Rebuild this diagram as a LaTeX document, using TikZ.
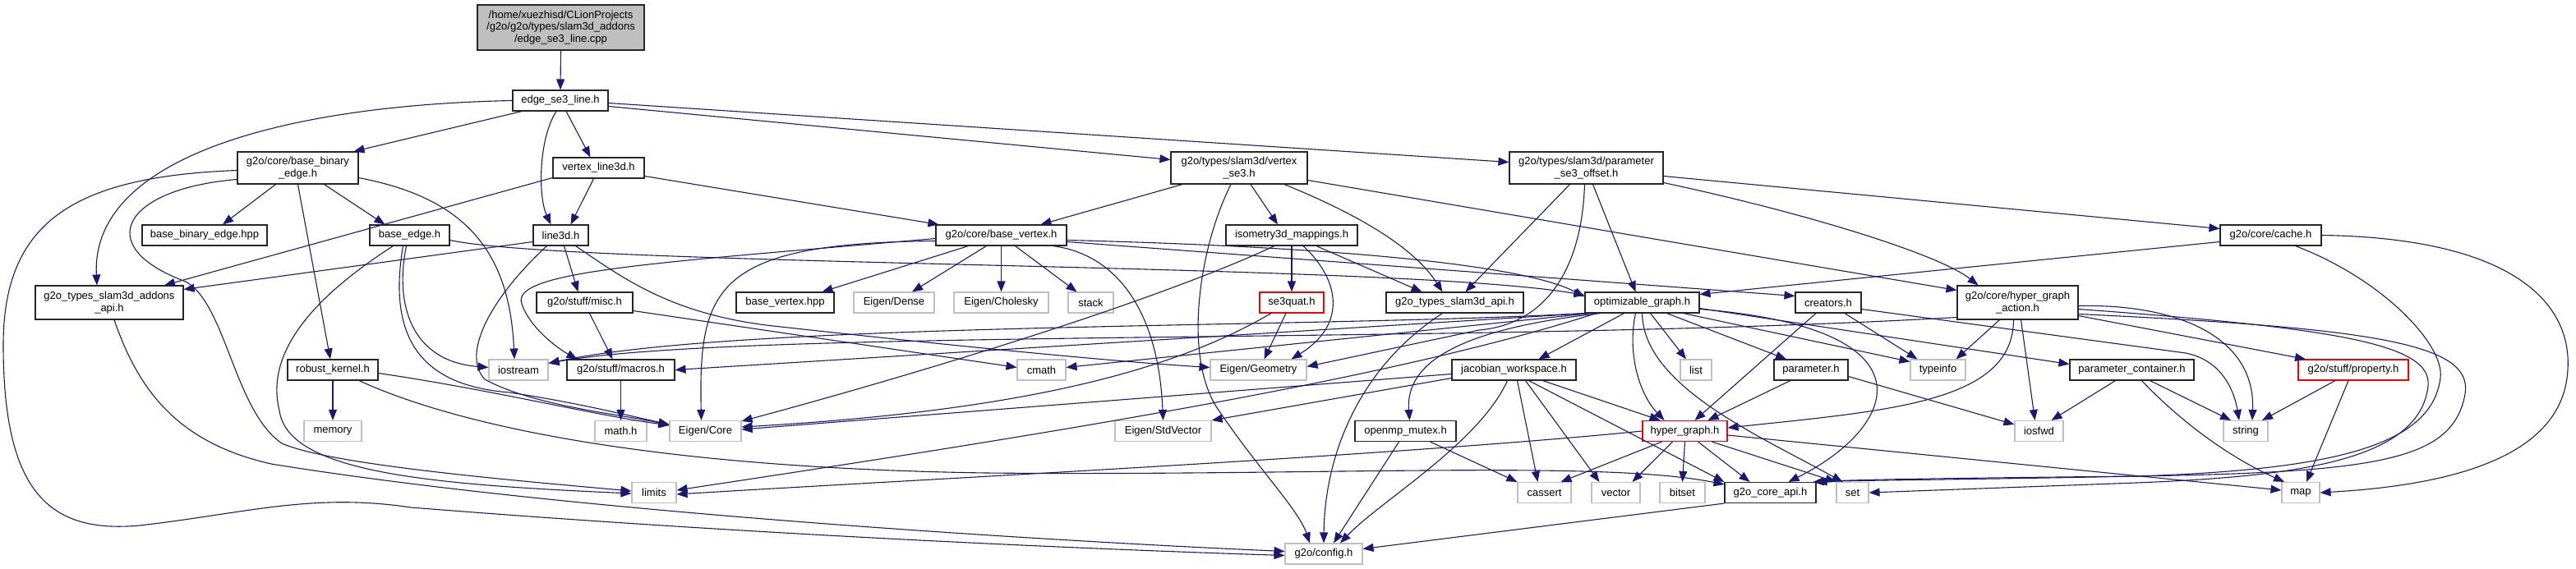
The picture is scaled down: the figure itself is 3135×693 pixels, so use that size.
\documentclass[tikz,border=0pt]{standalone}
\usepackage{fontspec}
\setmainfont{Liberation Sans}
\usepackage{tikz}
\usetikzlibrary{arrows.meta}
\definecolor{edgeblue}{HTML}{191970}
\definecolor{sysgray}{HTML}{BFBFBF}
\newcommand{\dxfont}{\fontsize{13}{14.5}\selectfont}

\begin{document}
\begin{tikzpicture}[x=1pt,y=-1pt,
  hdr/.style={draw=black!85,line width=1.1pt,fill=white,inner sep=0pt,
    minimum height=25pt,align=center,font=\dxfont},
  sys/.style={hdr,draw=sysgray},
  trunc/.style={hdr,draw=red},
  root/.style={hdr,fill=sysgray,minimum height=55pt},
  two/.style={minimum height=39pt},
  dep/.style={draw=edgeblue,line width=1.1pt,
    -{Triangle[length=13pt,width=10pt]}}]
\useasboundingbox (0,0) rectangle (3135,693);
% the cpp file and the header it includes
\node[root,minimum width=203pt] (root) at (682.5,33.5)
  {/home/xuezhisd/CLionProjects\\/g2o/g2o/types/slam3d\_addons\\/edge\_se3\_line.cpp};
\node[hdr,minimum width=116pt] (esl) at (682,122.5) {edge\_se3\_line.h};
% rank 2
\node[hdr,two,minimum width=147pt] (bbe) at (362.5,204.5) {g2o/core/base\_binary\\\_edge.h};
\node[hdr,minimum width=111pt] (vl3) at (728.5,204.5) {vertex\_line3d.h};
\node[hdr,two,minimum width=166pt] (vse3) at (1508,204.5) {g2o/types/slam3d/vertex\\\_se3.h};
\node[hdr,two,minimum width=187pt] (pso) at (1930.5,204.5) {g2o/types/slam3d/parameter\\\_se3\_offset.h};
% rank 3
\node[hdr,minimum width=152pt] (bbehpp) at (249,286.5) {base\_binary\_edge.hpp};
\node[hdr,minimum width=97pt] (be) at (498.5,286.5) {base\_edge.h};
\node[hdr,minimum width=67pt] (l3d) at (682.5,286.5) {line3d.h};
\node[hdr,minimum width=159pt] (bv) at (1218.5,286.5) {g2o/core/base\_vertex.h};
\node[hdr,minimum width=160pt] (iso) at (1572,286.5) {isometry3d\_mappings.h};
\node[hdr,minimum width=123pt] (cache) at (2763.5,286.5) {g2o/core/cache.h};
% rank 4
\node[hdr,minimum height=41pt,minimum width=180pt] (addapi) at (133,368.5) {g2o\_types\_slam3d\_addons\\\_api.h};
\node[hdr,minimum width=117pt] (misc) at (711.5,368.5) {g2o/stuff/misc.h};
\node[hdr,minimum width=119pt] (bvhpp) at (955.5,368.5) {base\_vertex.hpp};
\node[sys,minimum width=98pt] (edense) at (1088,368.5) {Eigen/Dense};
\node[sys,minimum width=115pt] (echol) at (1218.5,368.5) {Eigen/Cholesky};
\node[sys,minimum width=55pt] (stack) at (1327.5,368.5) {stack};
\node[trunc,minimum width=78pt] (se3q) at (1572,368.5) {se3quat.h};
\node[hdr,minimum width=167pt] (s3api) at (1770.5,368.5) {g2o\_types\_slam3d\_api.h};
\node[hdr,minimum width=139pt] (og) at (1998.5,368.5) {optimizable\_graph.h};
\node[hdr,minimum width=80pt] (creat) at (2225,368.5) {creators.h};
\node[hdr,minimum height=41pt,minimum width=147pt] (hga) at (2455.5,368.5) {g2o/core/hyper\_graph\\\_action.h};
% rank 5
\node[hdr,minimum width=110pt] (rk) at (405,450.5) {robust\_kernel.h};
\node[sys,minimum width=72pt] (iostr) at (631,450.5) {iostream};
\node[hdr,minimum width=131pt] (macros) at (755.5,450.5) {g2o/stuff/macros.h};
\node[sys,minimum width=59pt] (cmath) at (1267.5,450.5) {cmath};
\node[sys,minimum width=117pt] (egeo) at (1531.5,450.5) {Eigen/Geometry};
\node[hdr,minimum width=151pt] (jw) at (1842.5,450.5) {jacobian\_workspace.h};
\node[sys,minimum width=38pt] (list) at (2064,450.5) {list};
\node[hdr,minimum width=90pt] (param) at (2204,450.5) {parameter.h};
\node[sys,minimum width=67pt] (tinfo) at (2358.5,450.5) {typeinfo};
\node[hdr,minimum width=151pt] (pc) at (2594.5,450.5) {parameter\_container.h};
\node[trunc,minimum width=134pt] (prop) at (2864,450.5) {g2o/stuff/property.h};
% rank 6
\node[sys,minimum width=70pt] (memory) at (405,525) {memory};
\node[sys,minimum width=63pt] (mathh) at (755.5,525) {math.h};
\node[sys,minimum width=87pt] (ecore) at (858.5,525) {Eigen/Core};
\node[sys,minimum width=117pt] (estd) at (1415.5,525) {Eigen/StdVector};
\node[hdr,minimum width=123pt] (omp) at (1710.5,525) {openmp\_mutex.h};
\node[trunc,minimum width=103pt] (hg) at (2050.5,525) {hyper\_graph.h};
\node[sys,minimum width=59pt] (iosfwd) at (2481.5,525) {iosfwd};
\node[sys,minimum width=54pt] (string) at (2733,525) {string};
% rank 7 and the config header
\node[sys,minimum width=54pt] (limits) at (796,600) {limits};
\node[sys,minimum width=65pt] (cassert) at (1879.5,600) {cassert};
\node[sys,minimum width=59pt] (vector) at (1966.5,600) {vector};
\node[sys,minimum width=55pt] (bitset) at (2047.5,600) {bitset};
\node[hdr,minimum width=111pt] (coreapi) at (2154.5,600) {g2o\_core\_api.h};
\node[sys,minimum width=39pt] (set) at (2254.5,600) {set};
\node[sys,minimum width=46pt] (map) at (2800,600) {map};
\node[sys,minimum width=94pt] (config) at (1611,674.5) {g2o/config.h};

% root and edge_se3_line.h
\draw[dep] (root.south) -- (esl.north);
\draw[dep] ([xshift=-47pt]esl.south) -- ([xshift=-6pt]bbe.north east);
\draw[dep] (esl.west) .. controls (350,128) and (110,190) .. ([xshift=-15pt]addapi.north);
\draw[dep] ([xshift=7pt]esl.south) -- ([xshift=-10pt]vl3.north);
\draw[dep] ([xshift=-5pt]esl.south) .. controls (655,170) and (655,240) .. ([xshift=-12pt]l3d.north);
\draw[dep] ([yshift=-7pt]esl.east) -- ([yshift=10pt]vse3.west);
\draw[dep] ([yshift=-3pt]esl.east) -- ([yshift=7pt]pso.west);
% base_binary_edge.h
\draw[dep] ([xshift=-27pt]bbe.south) -- ([xshift=22pt]bbehpp.north);
\draw[dep] ([xshift=32pt]bbe.south) -- ([xshift=-30pt]be.north);
\draw[dep] (bbe.south) -- ([xshift=-3pt]rk.north);
\draw[dep] ([yshift=-12pt]bbe.east) .. controls (560,240) and (620,300) .. ([xshift=-5pt]iostr.north);
\draw[dep] ([yshift=-14pt]bbe.west) .. controls (150,230) and (110,300) .. (226,343)
  .. controls (275,370) and (285,500) .. (343,540)
  .. controls (400,565) and (600,583) .. ([yshift=2pt]limits.west);
\draw[dep] ([yshift=-3pt]bbe.west) .. controls (90,215) and (4,270) .. (4,420)
  .. controls (4,600) and (60,650) .. (170,640)
  .. controls (300,625) and (380,600) .. (500,618)
  .. controls (900,650) and (1300,668) .. ([yshift=-2pt]config.west);
% vertex_line3d.h
\draw[dep] ([yshift=-12pt]vl3.west) -- ([xshift=67pt]addapi.north);
\draw[dep] ([xshift=-6pt]vl3.south) -- ([xshift=12pt]l3d.north);
\draw[dep] ([yshift=-10pt]vl3.east) -- ([xshift=4pt]bv.north west);
% vertex_se3.h
\draw[dep] ([xshift=-69pt]vse3.south) -- ([xshift=48pt]bv.north);
\draw[dep] ([xshift=-10pt]vse3.south) .. controls (1460,300) and (1440,430) .. (1480,495)
  .. controls (1530,570) and (1580,620) .. ([xshift=-17pt]config.north);
\draw[dep] ([xshift=14pt]vse3.south) -- ([xshift=-17pt]iso.north);
\draw[dep] ([xshift=55pt]vse3.south) .. controls (1650,260) and (1720,300) .. ([xshift=-15pt]s3api.north);
\draw[dep] ([yshift=-15pt]vse3.east) -- ([yshift=15pt]hga.west);
% parameter_se3_offset.h
\draw[dep] ([xshift=-20pt]pso.south) -- ([xshift=13pt]s3api.north);
\draw[dep] ([xshift=-2pt]pso.south) .. controls (1925,330) and (1880,395) .. (1800,402)
  -- ([yshift=4pt]egeo.east);
\draw[dep] ([xshift=8pt]pso.south) -- ([xshift=-8pt]og.north);
\draw[dep] ([yshift=-10pt]pso.east) -- ([yshift=8pt]cache.west);
\draw[dep] ([yshift=-18pt]pso.east) .. controls (2200,260) and (2360,310) .. ([xshift=-48pt]hga.north);
% base_edge.h
\draw[dep] ([yshift=-6pt]be.east) .. controls (700,325) and (1700,320) .. ([yshift=-4pt]og.north west);
\draw[dep] ([xshift=-20pt]be.south) .. controls (400,350) and (320,420) .. (340,500)
  .. controls (350,575) and (520,590) .. ([yshift=-1pt]limits.west);
\draw[dep] ([xshift=-4pt]be.south) .. controls (480,370) and (500,440) .. ([yshift=3pt]iostr.west);
\draw[dep] ([xshift=-8pt]be.south) .. controls (470,420) and (520,470) .. (620,478)
  .. controls (700,490) and (760,505) .. ([yshift=8pt]ecore.west);
% line3d.h
\draw[dep] ([yshift=-8pt]l3d.west) -- ([yshift=16pt]addapi.east);
\draw[dep] ([xshift=-17pt]l3d.south) .. controls (600,360) and (560,430) .. (590,462)
  .. controls (650,495) and (760,505) .. ([yshift=7pt]ecore.west);
\draw[dep] ([xshift=4pt]l3d.south) -- ([xshift=-8pt]misc.north);
\draw[dep] ([xshift=18pt]l3d.south) .. controls (760,340) and (820,385) .. (950,398)
  .. controls (1150,420) and (1350,440) .. ([yshift=3pt]egeo.west);
% base_vertex.h
\draw[dep] ([xshift=-40pt]bv.south) -- ([xshift=45pt]bvhpp.north);
\draw[dep] ([xshift=-18pt]bv.south) -- ([xshift=22pt]edense.north);
\draw[dep] (bv.south) -- (echol.north);
\draw[dep] ([xshift=17pt]bv.south) -- ([xshift=-17pt]stack.north);
\draw[dep] ([yshift=-4pt]bv.west) .. controls (800,320) and (620,330) .. (635,370)
  .. controls (645,400) and (680,425) .. ([xshift=-53pt]macros.north);
\draw[dep] ([yshift=-7pt]bv.west) .. controls (870,296) and (850,350) .. ([xshift=-5pt]ecore.north);
\draw[dep] ([xshift=63pt]bv.south) .. controls (1360,310) and (1410,380) .. (estd.north);
\draw[dep] ([yshift=-6pt]bv.east) .. controls (1600,300) and (1850,320) .. ([yshift=-6pt]og.north west);
\draw[dep] ([yshift=-8pt]bv.east) -- ([yshift=8pt]creat.west);
% isometry3d_mappings.h and se3quat.h
\draw[dep] ([xshift=-21pt]iso.south) .. controls (1400,370) and (1100,460) .. ([yshift=12pt]ecore.east);
\draw[dep] (iso.south) -- (se3q.north);
\draw[dep] ([xshift=14pt]iso.south) .. controls (1630,340) and (1640,395) .. ([xshift=40pt]egeo.north);
\draw[dep] ([xshift=30pt]iso.south) -- ([xshift=-40pt]s3api.north);
\draw[dep] ([xshift=-25pt]se3q.south) .. controls (1430,450) and (1250,500) .. ([yshift=5pt]ecore.east);
\draw[dep] ([xshift=-7pt]se3q.south) -- ([xshift=7pt]egeo.north);
% the two api headers
\draw[dep] ([xshift=-15pt]s3api.south) .. controls (1650,450) and (1612,560) .. (config.north);
\draw[dep] ([xshift=6pt]addapi.south) .. controls (170,480) and (220,540) .. (330,565)
  .. controls (700,625) and (1300,660) .. ([yshift=3pt]config.west);
% misc.h and macros.h
\draw[dep] ([xshift=6pt]misc.south) -- ([xshift=-10pt]macros.north);
\draw[dep] ([yshift=-10pt]misc.east) -- ([yshift=3pt]cmath.west);
\draw[dep] (macros.south) -- (mathh.north);
% optimizable_graph.h
\draw[dep] (og.south west) .. controls (1600,400) and (900,392) .. ([yshift=8pt]iostr.east);
\draw[dep] ([xshift=3pt]og.south west) -- (macros.east);
\draw[dep] ([xshift=8pt]og.south west) -- ([yshift=3pt]cmath.east);
\draw[dep] ([xshift=14pt]og.south west) .. controls (1700,460) and (1300,525) .. ([yshift=3pt]limits.east);
\draw[dep] ([xshift=20pt]og.south west) .. controls (1780,400) and (1710,440) .. ([xshift=5pt]omp.north);
\draw[dep] ([xshift=-22pt]og.south) -- ([xshift=30pt]jw.north);
\draw[dep] ([xshift=-8pt]og.south) .. controls (1980,430) and (1995,480) .. ([xshift=-25pt]hg.north);
\draw[dep] (og.south) .. controls (2000,470) and (2140,530) .. ([xshift=-12pt]set.north);
\draw[dep] ([xshift=10pt]og.south) -- ([xshift=-12pt]list.north);
\draw[dep] ([xshift=30pt]og.south) -- ([xshift=-30pt]param.north);
\draw[dep] ([xshift=50pt]og.south) -- ([yshift=10pt]tinfo.west);
\draw[dep] ([yshift=-8pt]og.east) .. controls (2360,400) and (2310,520) .. ([xshift=22pt]coreapi.north);
\draw[dep] ([yshift=-7pt]og.east) -- ([yshift=7pt]pc.west);
% creators.h
\draw[dep] ([xshift=-15pt]creat.south) -- ([xshift=12pt]hg.north);
\draw[dep] ([xshift=20pt]creat.south) -- ([xshift=-25pt]tinfo.north);
\draw[dep] ([yshift=-8pt]creat.east) -- (2660,430)
  .. controls (2700,438) and (2718,470) .. ([xshift=-8pt]string.north);
% hyper_graph_action.h
\draw[dep] ([yshift=-18pt]hga.west) .. controls (1800,420) and (900,400) .. ([yshift=8pt]iostr.east);
\draw[dep] ([xshift=-22pt]hga.south) -- ([xshift=22pt]tinfo.north);
\draw[dep] ([xshift=4pt]hga.south) -- ([xshift=-5pt]iosfwd.north);
\draw[dep] ([xshift=-5pt]hga.south) .. controls (2450,490) and (2300,500) .. ([yshift=4pt]hg.east);
\draw[dep] ([yshift=-4pt]hga.east) .. controls (2650,370) and (2745,410) .. ([xshift=8pt]string.north);
\draw[dep] ([yshift=-8pt]hga.east) .. controls (2850,400) and (2960,420) .. (2955,470)
  .. controls (2945,560) and (2800,580) .. (2600,588) -- (set.east);
\draw[dep] ([yshift=-14pt]hga.east) .. controls (2900,400) and (3010,420) .. (3000,480)
  .. controls (2985,560) and (2900,575) .. (2600,580)
  .. controls (2400,582) and (2260,584) .. ([xshift=-4pt]coreapi.north east);
\draw[dep] ([yshift=-16pt]hga.east) -- ([xshift=-58pt]prop.north);
% cache.h
\draw[dep] ([yshift=-8pt]cache.west) -- ([yshift=10pt]og.east);
\draw[dep] ([xshift=30pt]cache.south) .. controls (2900,340) and (2975,420) .. (2970,460)
  .. controls (2960,540) and (2850,572) .. (2600,580)
  .. controls (2400,584) and (2260,585) .. (coreapi.north east);
\draw[dep] (cache.east) .. controls (3060,290) and (3130,370) .. (3125,450)
  .. controls (3120,550) and (3000,590) .. (map.east);
% robust_kernel.h
\draw[dep] (rk.south) -- (memory.north);
\draw[dep] ([yshift=-4pt]rk.east) .. controls (600,475) and (720,505) .. ([yshift=7pt]ecore.west);
\draw[dep] ([xshift=32pt]rk.south) .. controls (560,520) and (800,570) .. (1200,576)
  .. controls (1600,580) and (1950,560) .. ([yshift=10pt]coreapi.west);
% jacobian_workspace.h
\draw[dep] ([yshift=-5pt]jw.west) -- ([yshift=2pt]ecore.east);
\draw[dep] ([yshift=-10pt]jw.west) -- (estd.north east);
\draw[dep] ([xshift=-8pt]jw.south) .. controls (1800,540) and (1680,610) .. ([xshift=20pt]config.north);
\draw[dep] ([xshift=4pt]jw.south) -- ([xshift=-8pt]cassert.north);
\draw[dep] ([xshift=14pt]jw.south) -- ([xshift=-20pt]vector.north);
\draw[dep] ([xshift=18pt]jw.south) -- (coreapi.north west);
\draw[dep] ([xshift=35pt]jw.south) -- ([xshift=-30pt]hg.north);
% parameter.h, parameter_container.h, property.h
\draw[dep] ([xshift=-25pt]param.south) -- ([xshift=28pt]hg.north);
\draw[dep] ([yshift=-8pt]param.east) -- ([yshift=8pt]iosfwd.west);
\draw[dep] ([xshift=-20pt]pc.south) -- ([xshift=15pt]iosfwd.north);
\draw[dep] ([xshift=22pt]pc.south) -- ([xshift=-18pt]string.north);
\draw[dep] ([xshift=12pt]pc.south) .. controls (2660,520) and (2720,560) .. ([xshift=-20pt]map.north);
\draw[dep] ([xshift=-22pt]prop.south) -- ([xshift=20pt]string.north);
\draw[dep] ([xshift=-6pt]prop.south) -- ([xshift=7pt]map.north);
% openmp_mutex.h and hyper_graph.h
\draw[dep] ([xshift=-8pt]omp.south) -- ([xshift=12pt]config.north);
\draw[dep] ([xshift=30pt]omp.south) -- (cassert.north west);
\draw[dep] (hg.west) .. controls (1700,555) and (1100,585) .. ([yshift=-2pt]limits.east);
\draw[dep] ([xshift=-28pt]hg.south) -- ([xshift=20pt]cassert.north);
\draw[dep] ([xshift=-15pt]hg.south) -- ([xshift=20pt]vector.north);
\draw[dep] (hg.south) -- (bitset.north);
\draw[dep] ([xshift=16pt]hg.south) -- ([xshift=-25pt]coreapi.north);
\draw[dep] ([xshift=33pt]hg.south) -- ([xshift=-20pt]set.north);
\draw[dep] ([yshift=-5pt]hg.east) -- ([yshift=3pt]map.west);
% g2o_core_api.h
\draw[dep] (coreapi.south west) -- ([yshift=6pt]config.east);
\end{tikzpicture}
\end{document}
